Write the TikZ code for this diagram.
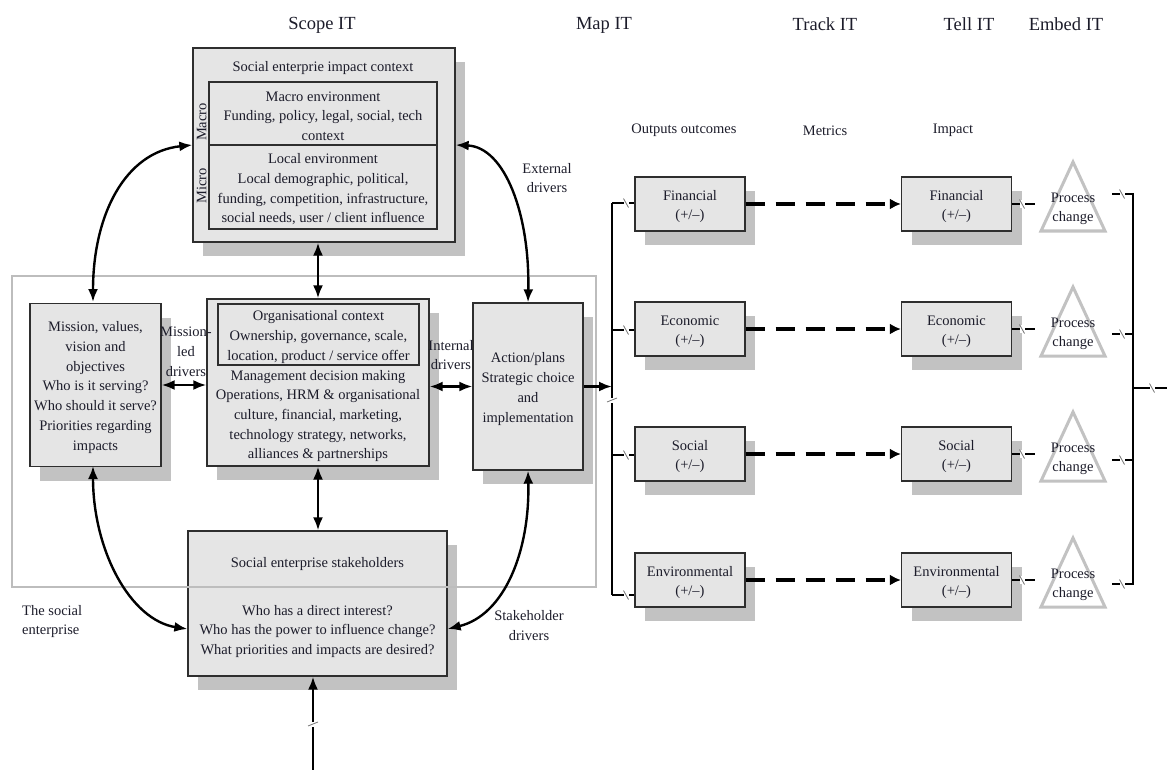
\documentclass[tikz,border=0pt]{standalone}
\usepackage{fontspec}
\setmainfont{Liberation Serif}
\usetikzlibrary{arrows.meta,shadows}

\definecolor{boxfill}{gray}{0.90}
\definecolor{shade}{gray}{0.76}
\definecolor{edge}{gray}{0.18}
\definecolor{framegray}{gray}{0.74}
\definecolor{ink}{RGB}{28,28,42}
\definecolor{trigray}{gray}{0.76}
\definecolor{tickgray}{gray}{0.45}

% strut that sets the height of a first text line
\newcommand{\toppad}{\rule{0pt}{15pt}}

\begin{document}
\begin{tikzpicture}[x=1pt,y=-1pt,
  every node/.style={text=ink, font=\fontsize{14.5}{19.7}\selectfont, inner sep=0pt, align=center,
    execute at begin node={\rule{0pt}{15pt}}},
  plainlabel/.style={execute at begin node={}},
  headfont/.style={font=\fontsize{18.5}{22}\selectfont, execute at begin node={\rule{0pt}{18pt}}},
  panel/.style={draw=edge, line width=1.3pt, fill=boxfill,
    drop shadow={shadow xshift=10pt, shadow yshift=-14pt, fill=shade, opacity=1}},
  innerbox/.style={draw=edge, line width=1.2pt, fill=boxfill},
  outbox/.style={panel, minimum width=110pt, minimum height=54pt},
  link/.style={line width=2.4pt, {Latex[length=13pt,width=10pt]}-{Latex[length=13pt,width=10pt]}},
  feed/.style={line width=2.4pt, -{Latex[length=13pt,width=10pt]}},
  wire/.style={line width=2.2pt},
  dasharrow/.style={line width=4pt, dash pattern=on 19pt off 11pt, -{Latex[length=11pt,width=11pt]}},
  frameline/.style={draw=framegray, line width=1.5pt},
  tri/.style={draw=trigray, line width=3pt, line join=miter},
  hbrk/.pic={\fill[white] (-2.5,-4) rectangle (2.5,4);
             \draw[tickgray, line width=0.8pt] (-2.5,-4.5) -- (2.5,4.5);},
  vbrk/.pic={\fill[white] (-4,-2.5) rectangle (4,2.5);
             \draw[tickgray, line width=0.8pt] (-5,2) -- (5,-2);}
]
\useasboundingbox (0,0) rectangle (1167,770);

% ---- column headings
\node[headfont] (hscope) at (322,22) {Scope IT};
\node[headfont] (hmap)   at (604,22) {Map IT};
\node[headfont] (htrack) at (825,22) {Track IT};
\node[headfont] (htell)  at (969,22) {Tell IT};
\node[headfont] (hembed) at (1066,22) {Embed IT};

\node (hout) at (684,128) {Outputs outcomes};
\node (hmet) at (825,128) {Metrics};
\node (himp) at (953,128) {Impact};

% ---- impact context
\node[panel, minimum width=262pt, minimum height=194pt] (ctx) at (324,145) {};
\node (ctxtitle) at (323,66) {Social enterprie impact context};
\node[innerbox, minimum width=228pt, minimum height=63pt] (macro) at (323,113.5)
  {\toppad Macro environment\\Funding, policy, legal, social, tech\\context};
\node[innerbox, minimum width=228pt, minimum height=84pt] (micro) at (323,187)
  {\toppad Local environment\\Local demographic, political,\\funding, competition, infrastructure,\\social needs, user / client influence};
\node[plainlabel, rotate=90] (macrolbl) at (199,122) {Macro};
\node[plainlabel, rotate=90] (microlbl) at (199,186) {Micro};

% ---- the social enterprise
\node[panel, minimum width=131pt, minimum height=163pt] (mission) at (95.5,385)
  {\toppad Mission, values,\\vision and\\objectives\\Who is it serving?\\Who should it serve?\\Priorities regarding\\impacts};
\node[panel, minimum width=222pt, minimum height=167pt] (org) at (318,382.5) {};
\node[innerbox, minimum width=201pt, minimum height=61pt] (orgctx) at (318.5,334.5)
  {\toppad Organisational context\\Ownership, governance, scale,\\location, product / service offer};
\node (mgmt) at (318,413.5)
  {\toppad Management decision making\\Operations, HRM \& organisational\\culture, financial, marketing,\\technology strategy, networks,\\alliances \& partnerships};
\node[panel, minimum width=110pt, minimum height=167pt] (action) at (528,386.5)
  {\toppad Action/plans\\Strategic choice\\and\\implementation};
\node[panel, minimum width=259pt, minimum height=145pt] (stake) at (317.5,603.5) {};
\node (staketitle) at (317.5,562) {Social enterprise stakeholders};
\node (stakeq) at (317.5,629)
  {\toppad Who has a direct interest?\\Who has the power to influence change?\\What priorities and impacts are desired?};

% ---- boundary of the enterprise
\draw[frameline] (12,276) rectangle (596,587);

% ---- driver labels
\node (mled)   at (186,349) {\toppad Mission-\\led\\drivers};
\node (intdrv) at (451,352.5) {\toppad Internal\\drivers};
\node (extdrv) at (547,175.5) {\toppad External\\drivers};
\node (stkdrv) at (529,623) {\toppad Stakeholder\\drivers};
\node[anchor=west, align=left] (socent) at (22,619) {\toppad The social\\enterprise};

% ---- links inside the enterprise
\draw[link] (org.north |- ctx.south) -- (org.north);
\draw[link] (org.south) -- (org.south |- stake.north);
\draw[link] (mission.east) -- (mission.east -| org.west);
\draw[link] (action.west -| org.east) -- (action.west);
\draw[link] (93,302) .. controls (93,215) and (125,152) .. (ctx.west);
\draw[link] (ctx.east) .. controls (505,147) and (530,215) .. (action.north);
\draw[link] (93,466) .. controls (93,550) and (130,620) .. (stake.west |- stakeq.center);
\draw[link] (action.south) .. controls (530,550) and (505,615) .. (stake.east |- stakeq.center);

% ---- input from below
\coordinate (src) at (313,770);
\draw[feed] (src) -- (src |- stake.south);
\pic at (313,724) {vbrk};

% ---- action to outputs
\coordinate (spinein) at (612,386.5);
\draw[feed] (action.east) -- (spinein);
\draw[wire] (612,203) -- (612,595);
\pic at (612,400) {vbrk};

% ---- outputs, metrics, impacts, process change
\foreach \y/\b/\r/\nm/\lab in {204/203/194/fin/Financial, 329/330/334/eco/Economic,
                               454/455/460/soc/Social, 580/595/584/env/Environmental}{
  \node[outbox] (o\nm) at (690,\y) {\toppad\lab\\(+/\textendash)};
  \node[outbox] (i\nm) at (956.5,\y) {\toppad\lab\\(+/\textendash)};
  \draw[wire] (612,\b) -- (o\nm.west |- 0,\b);
  \pic at (626,\b) {hbrk};
  \draw[dasharrow] (o\nm.east) -- (i\nm.west);
  \draw[tri] (1073,\y-42) -- (1105,\y+27) -- (1041,\y+27) -- cycle;
  \node (p\nm) at (1073,\y+2) {\toppad Process\\change};
  \coordinate (l\nm) at (1035,\y);
  \draw[wire] (i\nm.east) -- (l\nm);
  \pic at (1022,\y) {hbrk};
  \coordinate (r\nm) at (1112,\r);
  \draw[wire] (r\nm) -- (1133,\r);
  \pic at (1122,\r) {hbrk};
}
\draw[wire] (1133,193) -- (1133,585);
\coordinate (out) at (1167,388);
\draw[wire] (1133,388) -- (out);
\pic at (1152,388) {hbrk};
\end{tikzpicture}
\end{document}
